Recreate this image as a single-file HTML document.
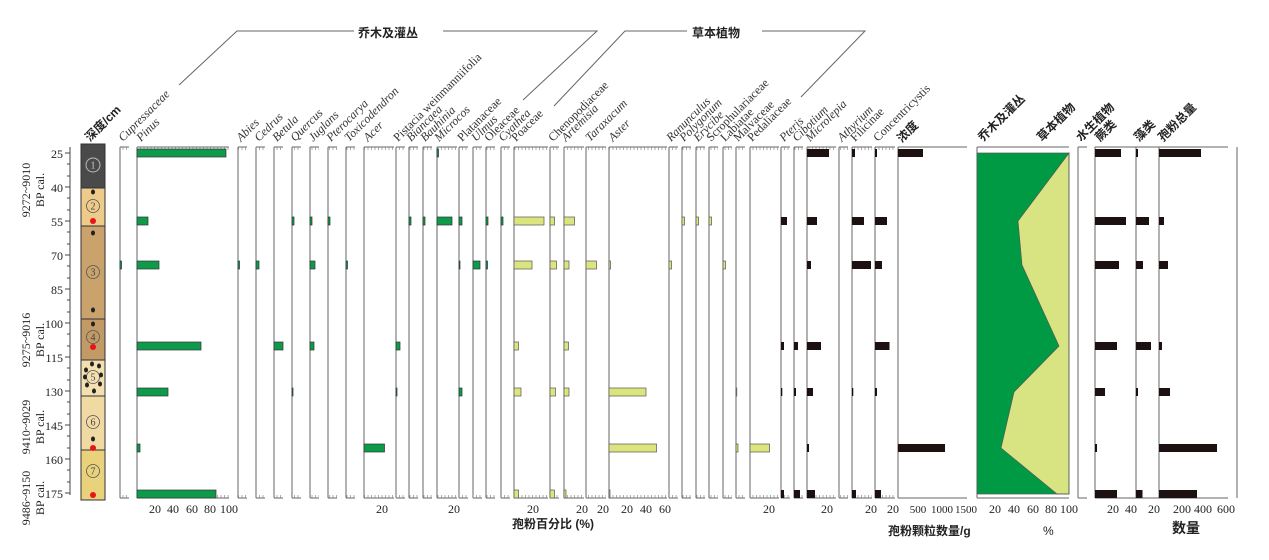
<!DOCTYPE html>
<html><head><meta charset="utf-8"><style>
html,body{margin:0;padding:0;background:#fff;width:1269px;height:560px;overflow:hidden}
svg{display:block}
.lb{font-family:"Liberation Serif",serif;font-style:italic;font-size:12px;fill:#333}
.cn{font-family:"Liberation Sans","Noto Sans CJK SC",sans-serif;font-weight:bold;font-size:12px;fill:#222}
.tk{font-family:"Liberation Serif",serif;font-size:12px;fill:#222}
.g{fill:#0e9a4a;stroke:#333;stroke-width:.7}
.y{fill:#dce47e;stroke:#555;stroke-width:.7}
.k{fill:#1c1010}
.ax{stroke:#666;stroke-width:1;fill:none}
</style></head><body>
<svg width="1269" height="560" viewBox="0 0 1269 560" xmlns="http://www.w3.org/2000/svg">
<defs>
<pattern id="tt" x="0" y="0" width="3.5" height="3" patternUnits="userSpaceOnUse"><line x1="0.5" y1="0" x2="0.5" y2="3" stroke="#777" stroke-width=".6"/></pattern>
</defs>
<polyline class="ax" points="179,85 237,31 354,31" stroke="#444"/>
<polyline class="ax" points="443,31 597,31 523,100" stroke="#444"/>
<text class="cn" x="358" y="37" font-size="13">乔木及灌丛</text>
<polyline class="ax" points="554,106 625,31 687,31"/>
<polyline class="ax" points="762,31 865,31 801,97"/>
<text class="cn" x="692" y="37" font-size="13">草本植物</text>

<rect x="81" y="144" width="24" height="44" fill="#4a4a4a"/>
<rect x="81" y="188" width="24" height="38" fill="#eecb8a"/>
<rect x="81" y="226" width="24" height="93" fill="#c9a26c"/>
<rect x="81" y="319" width="24" height="41" fill="#c29a66"/>
<rect x="81" y="360" width="24" height="36" fill="#f3dfb0"/>
<rect x="81" y="396" width="24" height="54" fill="#f0d9a2"/>
<rect x="81" y="450" width="24" height="50" fill="#ead27c"/>
<g stroke="#333" stroke-width="1" fill="none">
<rect x="81" y="144" width="24" height="356"/>
<line x1="81" y1="188" x2="105" y2="188"/><line x1="81" y1="226" x2="105" y2="226"/><line x1="81" y1="319" x2="105" y2="319"/><line x1="81" y1="360" x2="105" y2="360"/><line x1="81" y1="396" x2="105" y2="396"/><line x1="81" y1="450" x2="105" y2="450"/>
</g>
<g fill="none" stroke="#bbb" stroke-width="1"><circle cx="93" cy="165" r="7"/></g>
<g fill="none" stroke="#555" stroke-width=".8"><circle cx="93" cy="206" r="6.5"/><circle cx="93" cy="272" r="6.5"/><circle cx="93" cy="337" r="6.5"/><circle cx="93" cy="377" r="6.5"/><circle cx="93" cy="422" r="6.5"/><circle cx="93" cy="471" r="6.5"/></g>
<g font-family="Liberation Serif,serif" font-size="10" text-anchor="middle" fill="#444">
<text x="93" y="168.5" fill="#ccc">1</text><text x="93" y="209.5">2</text><text x="93" y="275.5">3</text><text x="93" y="340.5">4</text><text x="93" y="380.5">5</text><text x="93" y="425.5">6</text><text x="93" y="474.5">7</text></g>
<g fill="#222"><ellipse cx="93" cy="192" rx="2" ry="2.5"/><ellipse cx="93" cy="233" rx="2" ry="2.5"/><ellipse cx="93" cy="310" rx="2" ry="2.5"/><ellipse cx="93" cy="324" rx="2" ry="2.5"/><ellipse cx="93" cy="439" rx="2" ry="2.5"/>
<ellipse cx="86" cy="370" rx="2" ry="2.5"/><ellipse cx="92" cy="364" rx="2" ry="2.5"/><ellipse cx="99" cy="366" rx="2" ry="2.5"/><ellipse cx="87" cy="385" rx="2" ry="2.5"/><ellipse cx="100" cy="384" rx="2" ry="2.5"/><ellipse cx="94" cy="391" rx="2" ry="2.5"/><ellipse cx="85" cy="377" rx="2" ry="2.5"/><ellipse cx="101" cy="375" rx="2" ry="2.5"/></g>
<g fill="#e8141a"><circle cx="93" cy="221" r="3"/><circle cx="93" cy="347" r="3"/><circle cx="93" cy="448" r="3"/><circle cx="93" cy="495" r="3"/></g>

<line x1="70" y1="147" x2="70" y2="495" stroke="#444"/>
<g stroke="#444">
<line x1="65" y1="153" x2="70" y2="153"/><line x1="65" y1="187" x2="70" y2="187"/><line x1="65" y1="221" x2="70" y2="221"/><line x1="65" y1="255" x2="70" y2="255"/><line x1="65" y1="289" x2="70" y2="289"/><line x1="65" y1="323" x2="70" y2="323"/><line x1="65" y1="357" x2="70" y2="357"/><line x1="65" y1="391" x2="70" y2="391"/><line x1="65" y1="425" x2="70" y2="425"/><line x1="65" y1="459" x2="70" y2="459"/><line x1="65" y1="493" x2="70" y2="493"/>
<line x1="67" y1="164" x2="70" y2="164"/><line x1="67" y1="176" x2="70" y2="176"/><line x1="67" y1="198" x2="70" y2="198"/><line x1="67" y1="210" x2="70" y2="210"/><line x1="67" y1="232" x2="70" y2="232"/><line x1="67" y1="244" x2="70" y2="244"/><line x1="67" y1="266" x2="70" y2="266"/><line x1="67" y1="278" x2="70" y2="278"/><line x1="67" y1="300" x2="70" y2="300"/><line x1="67" y1="312" x2="70" y2="312"/><line x1="67" y1="334" x2="70" y2="334"/><line x1="67" y1="346" x2="70" y2="346"/><line x1="67" y1="368" x2="70" y2="368"/><line x1="67" y1="380" x2="70" y2="380"/><line x1="67" y1="402" x2="70" y2="402"/><line x1="67" y1="414" x2="70" y2="414"/><line x1="67" y1="436" x2="70" y2="436"/><line x1="67" y1="448" x2="70" y2="448"/><line x1="67" y1="470" x2="70" y2="470"/><line x1="67" y1="482" x2="70" y2="482"/>
</g>
<g class="tk" text-anchor="end" font-size="13">
<text x="63" y="158">25</text><text x="63" y="192">40</text><text x="63" y="226">55</text><text x="63" y="260">70</text><text x="63" y="294">85</text><text x="63" y="328">100</text><text x="63" y="362">115</text><text x="63" y="396">130</text><text x="63" y="430">145</text><text x="63" y="464">160</text><text x="63" y="498">175</text></g>
<g class="tk" text-anchor="middle" font-size="13">
<text transform="translate(30,190) rotate(-90)">9272~9010</text><text transform="translate(44,190) rotate(-90)">BP cal.</text>
<text transform="translate(30,340) rotate(-90)">9275~9016</text><text transform="translate(44,340) rotate(-90)">BP cal.</text>
<text transform="translate(30,427) rotate(-90)">9410~9029</text><text transform="translate(44,427) rotate(-90)">BP cal.</text>
<text transform="translate(30,498) rotate(-90)">9486~9150</text><text transform="translate(44,498) rotate(-90)">BP cal.</text>
</g>

<g>
<g class="ax">
<path d="M120,147V498M137,147V498M238,147V498M256,147V498M274,147V498M292,147V498M310,147V498M328,147V498M346,147V498M364,147V498M396,147V498M409,147V498M423,147V498M437,147V498M459,147V498M473,147V498M486,147V498M501,147V498M514,147V498M550,147V498M564,147V498M586,147V498M609,147V498M669,147V498M682,147V498M696,147V498M709,147V498M723,147V498M736,147V498M750,147V498M781,147V498M794,147V498M807,147V498M839,147V498M852,147V498M875,147V498M898,147V498M977,147V498M1078,147V498M1095,147V498M1136,147V498M1159,147V498M1237,147V498"/>
<path d="M120,147H129M137,147H229M238,147H247M256,147H265M274,147H283M292,147H301M310,147H319M328,147H337M346,147H355M364,147H394M396,147H405M409,147H418M423,147H432M437,147H457M459,147H468M473,147H482M486,147H495M501,147H510M514,147H548M550,147H559M564,147H584M586,147H606M609,147H667M669,147H678M682,147H691M696,147H705M709,147H718M723,147H732M736,147H745M750,147H779M781,147H790M794,147H803M807,147H836M839,147H848M852,147H872M875,147H895M898,147H967M977,147H1069M1078,147H1087M1095,147H1136M1136,147H1159M1159,147H1228"/>
<path d="M120,498H129M137,498H229M238,498H247M256,498H265M274,498H283M292,498H301M310,498H319M328,498H337M346,498H355M364,498H394M396,498H405M409,498H418M423,498H432M437,498H457M459,498H468M473,498H482M486,498H495M501,498H510M514,498H548M550,498H559M564,498H584M586,498H606M609,498H667M669,498H678M682,498H691M696,498H705M709,498H718M723,498H732M736,498H745M750,498H779M781,498H790M794,498H803M807,498H836M839,498H848M852,498H872M875,498H895M898,498H967M977,498H1069M1078,498H1087M1095,498H1136M1136,498H1159M1159,498H1228"/>
</g>
<g fill="url(#tt)">
<rect x="120" y="147" width="9" height="3"/><rect x="137" y="147" width="92" height="3"/><rect x="238" y="147" width="9" height="3"/><rect x="256" y="147" width="9" height="3"/><rect x="274" y="147" width="9" height="3"/><rect x="292" y="147" width="9" height="3"/><rect x="310" y="147" width="9" height="3"/><rect x="328" y="147" width="9" height="3"/><rect x="346" y="147" width="9" height="3"/><rect x="364" y="147" width="30" height="3"/><rect x="396" y="147" width="9" height="3"/><rect x="409" y="147" width="9" height="3"/><rect x="423" y="147" width="9" height="3"/><rect x="437" y="147" width="20" height="3"/><rect x="459" y="147" width="9" height="3"/><rect x="473" y="147" width="9" height="3"/><rect x="486" y="147" width="9" height="3"/><rect x="501" y="147" width="9" height="3"/><rect x="514" y="147" width="34" height="3"/><rect x="550" y="147" width="9" height="3"/><rect x="564" y="147" width="20" height="3"/><rect x="586" y="147" width="20" height="3"/><rect x="609" y="147" width="58" height="3"/><rect x="669" y="147" width="9" height="3"/><rect x="682" y="147" width="9" height="3"/><rect x="696" y="147" width="9" height="3"/><rect x="709" y="147" width="9" height="3"/><rect x="723" y="147" width="9" height="3"/><rect x="736" y="147" width="9" height="3"/><rect x="750" y="147" width="29" height="3"/><rect x="781" y="147" width="9" height="3"/><rect x="794" y="147" width="9" height="3"/><rect x="807" y="147" width="29" height="3"/><rect x="839" y="147" width="9" height="3"/><rect x="852" y="147" width="20" height="3"/><rect x="875" y="147" width="20" height="3"/>
<rect x="120" y="495" width="9" height="3"/><rect x="137" y="495" width="92" height="3"/><rect x="238" y="495" width="9" height="3"/><rect x="256" y="495" width="9" height="3"/><rect x="274" y="495" width="9" height="3"/><rect x="292" y="495" width="9" height="3"/><rect x="310" y="495" width="9" height="3"/><rect x="328" y="495" width="9" height="3"/><rect x="346" y="495" width="9" height="3"/><rect x="364" y="495" width="30" height="3"/><rect x="396" y="495" width="9" height="3"/><rect x="409" y="495" width="9" height="3"/><rect x="423" y="495" width="9" height="3"/><rect x="437" y="495" width="20" height="3"/><rect x="459" y="495" width="9" height="3"/><rect x="473" y="495" width="9" height="3"/><rect x="486" y="495" width="9" height="3"/><rect x="501" y="495" width="9" height="3"/><rect x="514" y="495" width="34" height="3"/><rect x="550" y="495" width="9" height="3"/><rect x="564" y="495" width="20" height="3"/><rect x="586" y="495" width="20" height="3"/><rect x="609" y="495" width="58" height="3"/><rect x="669" y="495" width="9" height="3"/><rect x="682" y="495" width="9" height="3"/><rect x="696" y="495" width="9" height="3"/><rect x="709" y="495" width="9" height="3"/><rect x="723" y="495" width="9" height="3"/><rect x="736" y="495" width="9" height="3"/><rect x="750" y="495" width="29" height="3"/><rect x="781" y="495" width="9" height="3"/><rect x="794" y="495" width="9" height="3"/><rect x="807" y="495" width="29" height="3"/><rect x="839" y="495" width="9" height="3"/><rect x="852" y="495" width="20" height="3"/><rect x="875" y="495" width="20" height="3"/>
</g>
</g>

<rect x="977" y="153" width="92" height="341" fill="#009a44"/>
<polygon points="1069,153 1018,221 1022,265 1059,346 1014,392 1001,448 1057,494 1069,494" fill="#d8e382" stroke="#555" stroke-width=".7"/>
<rect x="977" y="153" width="92" height="341" fill="none" stroke="#555" stroke-width=".7"/>

<g class="g">
<rect x="137" y="149" width="89" height="8"/><rect x="137" y="217" width="11" height="8"/><rect x="137" y="261" width="22" height="8"/><rect x="137" y="342" width="64" height="8"/><rect x="137" y="388" width="31" height="8"/><rect x="137" y="444" width="3" height="8"/><rect x="137" y="490" width="79" height="8"/>
<rect x="120" y="261" width="1.5" height="8"/><rect x="238" y="261" width="1.5" height="8"/><rect x="256" y="261" width="3" height="8"/>
<rect x="274" y="342" width="9" height="8"/><rect x="292" y="217" width="2" height="8"/><rect x="292" y="388" width="1" height="8"/>
<rect x="310" y="217" width="2" height="8"/><rect x="310" y="261" width="5" height="8"/><rect x="310" y="342" width="4" height="8"/>
<rect x="328" y="217" width="2" height="8"/><rect x="346" y="261" width="1.5" height="8"/>
<rect x="364" y="444" width="20.5" height="8"/><rect x="396" y="342" width="4" height="8"/><rect x="396" y="388" width="1" height="8"/>
<rect x="409" y="217" width="2" height="8"/><rect x="423" y="217" width="2" height="8"/>
<rect x="437" y="149" width="1.5" height="8"/><rect x="437" y="217" width="15" height="8"/>
<rect x="459" y="217" width="3" height="8"/><rect x="459" y="261" width="1" height="8"/><rect x="459" y="388" width="3" height="8"/>
<rect x="473" y="261" width="7" height="8"/><rect x="486" y="217" width="2" height="8"/><rect x="486" y="261" width="1.5" height="8"/><rect x="501" y="217" width="2" height="8"/>
</g>
<g class="y">
<rect x="514" y="217" width="30" height="8"/><rect x="514" y="261" width="18" height="8"/><rect x="514" y="342" width="4.5" height="8"/><rect x="514" y="388" width="7" height="8"/><rect x="514" y="490" width="4.5" height="8"/>
<rect x="550" y="217" width="4.5" height="8"/><rect x="550" y="261" width="6.5" height="8"/><rect x="550" y="388" width="5.5" height="8"/><rect x="550" y="490" width="4.5" height="8"/>
<rect x="564" y="217" width="10.5" height="8"/><rect x="564" y="261" width="5" height="8"/><rect x="564" y="342" width="4.5" height="8"/><rect x="564" y="388" width="5" height="8"/><rect x="564" y="490" width="2" height="8"/>
<rect x="586" y="261" width="10.5" height="8"/>
<rect x="609" y="261" width="1.5" height="8"/><rect x="609" y="388" width="37" height="8"/><rect x="609" y="444" width="47.5" height="8"/><rect x="609" y="490" width="1" height="8"/>
<rect x="669" y="261" width="2.5" height="8"/><rect x="682" y="217" width="2.5" height="8"/><rect x="696" y="217" width="2.5" height="8"/><rect x="709" y="217" width="2.5" height="8"/><rect x="723" y="261" width="2.5" height="8"/>
<rect x="736" y="444" width="2" height="8"/><rect x="736" y="388" width=".8" height="8"/><rect x="750" y="444" width="19.5" height="8"/>
</g>
<g class="k">
<rect x="781" y="217" width="6" height="8"/><rect x="781" y="342" width="3" height="8"/><rect x="781" y="388" width="1.3" height="8"/><rect x="781" y="490" width="3" height="8"/>
<rect x="794" y="342" width="4" height="8"/><rect x="794" y="388" width="2" height="8"/><rect x="794" y="490" width="6" height="8"/>
<rect x="807" y="149" width="22" height="8"/><rect x="807" y="217" width="10" height="8"/><rect x="807" y="261" width="4" height="8"/><rect x="807" y="342" width="14" height="8"/><rect x="807" y="388" width="6" height="8"/><rect x="807" y="444" width="2" height="8"/><rect x="807" y="490" width="8" height="8"/>
<rect x="852" y="149" width="3" height="8"/><rect x="852" y="217" width="12" height="8"/><rect x="852" y="261" width="19" height="8"/><rect x="852" y="388" width="1.3" height="8"/><rect x="852" y="490" width="4" height="8"/>
<rect x="875" y="149" width="2" height="8"/><rect x="875" y="217" width="12" height="8"/><rect x="875" y="261" width="7" height="8"/><rect x="875" y="342" width="14.5" height="8"/><rect x="875" y="388" width="2" height="8"/><rect x="875" y="490" width="6" height="8"/>
<rect x="898" y="149" width="25" height="8"/><rect x="898" y="444" width="47" height="8"/>
<rect x="1095" y="149" width="26" height="8"/><rect x="1095" y="217" width="31" height="8"/><rect x="1095" y="261" width="24" height="8"/><rect x="1095" y="342" width="22" height="8"/><rect x="1095" y="388" width="10" height="8"/><rect x="1095" y="444" width="2" height="8"/><rect x="1095" y="490" width="22" height="8"/>
<rect x="1136" y="149" width="2" height="8"/><rect x="1136" y="217" width="13" height="8"/><rect x="1136" y="261" width="7" height="8"/><rect x="1136" y="342" width="15" height="8"/><rect x="1136" y="388" width="2" height="8"/><rect x="1136" y="490" width="6.5" height="8"/>
<rect x="1159" y="149" width="42" height="8"/><rect x="1159" y="217" width="5" height="8"/><rect x="1159" y="261" width="9" height="8"/><rect x="1159" y="342" width="3" height="8"/><rect x="1159" y="388" width="11" height="8"/><rect x="1159" y="444" width="58" height="8"/><rect x="1159" y="490" width="38" height="8"/>
</g>

<g class="lb">
<text transform="translate(123,142) rotate(-45)">Cupressaceae</text>
<text transform="translate(141,142) rotate(-45)">Pinus</text>
<text transform="translate(241,142) rotate(-45)">Abies</text>
<text transform="translate(259,142) rotate(-45)">Cedrus</text>
<text transform="translate(277,142) rotate(-45)">Betula</text>
<text transform="translate(295,142) rotate(-45)">Quercus</text>
<text transform="translate(313,142) rotate(-45)">Juglans</text>
<text transform="translate(331,142) rotate(-45)">Pterocarya</text>
<text transform="translate(349,142) rotate(-45)">Toxicodendron</text>
<text transform="translate(368,142) rotate(-45)">Acer</text>
<text transform="translate(398,142) rotate(-45)" font-style="normal">Pistacia weinmanniifolia</text>
<text transform="translate(411,142) rotate(-45)">Biancaea</text>
<text transform="translate(425,142) rotate(-45)">Bauhinia</text>
<text transform="translate(439,142) rotate(-45)">Microcos</text>
<text transform="translate(462,142) rotate(-45)" font-style="normal">Platanaceae</text>
<text transform="translate(476,142) rotate(-45)">Ulmus</text>
<text transform="translate(489,142) rotate(-45)" font-style="normal">Oleaceae</text>
<text transform="translate(503,142) rotate(-45)">Cyathea</text>
<text transform="translate(516,142) rotate(-45)" font-style="normal">Poaceae</text>
<text transform="translate(553,142) rotate(-45)" font-style="normal">Chenopodiaceae</text>
<text transform="translate(566,142) rotate(-45)">Artemisia</text>
<text transform="translate(590,142) rotate(-45)">Taraxacum</text>
<text transform="translate(613,142) rotate(-45)">Aster</text>
<text transform="translate(671,142) rotate(-45)">Ranunculus</text>
<text transform="translate(684,142) rotate(-45)">Polygonum</text>
<text transform="translate(698,142) rotate(-45)">Erycibe</text>
<text transform="translate(711,142) rotate(-45)" font-style="normal">Scrophulariaceae</text>
<text transform="translate(725,142) rotate(-45)" font-style="normal">Labiatae</text>
<text transform="translate(738,142) rotate(-45)" font-style="normal">Malvaceae</text>
<text transform="translate(752,142) rotate(-45)" font-style="normal">Pedaliaceae</text>
<text transform="translate(784,142) rotate(-45)">Pteris</text>
<text transform="translate(797,142) rotate(-45)">Cibotium</text>
<text transform="translate(810,142) rotate(-45)">Microlepia</text>
<text transform="translate(842,142) rotate(-45)">Athyrium</text>
<text transform="translate(855,142) rotate(-45)" font-style="normal">Filicinae</text>
<text transform="translate(878,142) rotate(-45)" font-style="normal">Concentricystis</text>
</g>
<g class="cn">
<text transform="translate(90,142) rotate(-45)">深度/cm</text>
<text transform="translate(902,143) rotate(-45)">浓度</text>
<text transform="translate(983,142) rotate(-45)">乔木及灌丛</text>
<text transform="translate(1042,142) rotate(-45)">草本植物</text>
<text transform="translate(1081,142) rotate(-45)">水生植物</text>
<text transform="translate(1100,142) rotate(-45)">蕨类</text>
<text transform="translate(1139,142) rotate(-45)">藻类</text>
<text transform="translate(1163,142) rotate(-45)">孢粉总量</text>
</g>

<g class="tk" text-anchor="middle">
<text x="155" y="513">20</text><text x="173" y="513">40</text><text x="192" y="513">60</text><text x="210" y="513">80</text><text x="229" y="513">100</text>
<text x="382" y="513">20</text><text x="454" y="513">20</text><text x="533" y="513">20</text><text x="582" y="513">20</text><text x="603" y="513">20</text>
<text x="627" y="513">20</text><text x="646" y="513">40</text><text x="665" y="513">60</text>
<text x="769" y="513">20</text><text x="827" y="513">20</text><text x="871" y="513">20</text><text x="893" y="513">20</text>
<text x="918" y="513" font-size="11">500</text><text x="942" y="513" font-size="11">1000</text><text x="966" y="513" font-size="11">1500</text>
<text x="995" y="513">20</text><text x="1014" y="513">40</text><text x="1033" y="513">60</text><text x="1051" y="513">80</text><text x="1069" y="513">100</text>
<text x="1113" y="513">20</text><text x="1131" y="513">40</text><text x="1154" y="513">20</text>
<text x="1182" y="513">200</text><text x="1203" y="513">400</text><text x="1226" y="513">600</text>
</g>
<g class="cn" font-size="13">
<text x="512" y="528">孢粉百分比 (%)</text>
<text x="888" y="535">孢粉颗粒数量/g</text>
<text x="1043" y="535" font-weight="normal">%</text>
<text x="1172" y="533" font-size="14">数量</text>
</g>
</svg>
</body></html>
